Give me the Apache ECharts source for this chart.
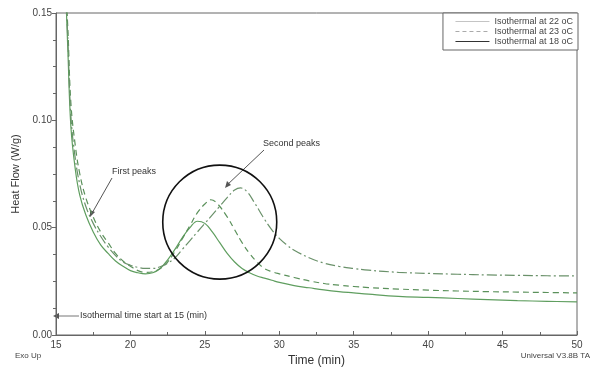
<!DOCTYPE html>
<html><head><meta charset="utf-8">
<script src="https://cdn.jsdelivr.net/npm/echarts@6/dist/echarts.min.js"></script>
<style>html,body{margin:0;padding:0;background:#fff}#c{width:600px;height:372px}</style>
</head><body><div id="c"></div>
<script>
const seriesNames = ['Isothermal at 22 oC', 'Isothermal at 23 oC', 'Isothermal at 18 oC'];
const xTicks = [15, 20, 25, 30, 35, 40, 45, 50];
const yTicks = [0.00, 0.05, 0.10, 0.15];

const t22 = [15.6,15.8,16.0,16.3,16.6,17.0,17.5,18.0,18.5,19.0,19.5,20.0,20.5,21.0,21.5,22.0,22.5,23.0,23.5,24.0,24.5,25.0,25.5,26.0,26.5,27.0,27.5,28.0,28.5,29.0,29.5,30,31,32,33,34,35,36,38,40,42,44,46,48,50];
const v22 = [0.17,0.132,0.097,0.077,0.065,0.056,0.048,0.042,0.038,0.0345,0.032,0.030,0.029,0.0285,0.029,0.031,0.035,0.040,0.0455,0.050,0.053,0.052,0.048,0.043,0.038,0.034,0.031,0.029,0.0275,0.0265,0.0255,0.0245,0.023,0.022,0.021,0.0202,0.0196,0.019,0.018,0.0175,0.017,0.0165,0.016,0.0157,0.0154];

const t23 = [15.6,15.8,16.0,16.3,16.6,17.0,17.5,18.0,18.5,19.0,19.5,20.0,20.5,21.0,21.5,22.0,22.5,23.0,23.5,24.0,24.5,25.0,25.4,25.8,26.5,27.0,27.5,28.0,28.5,29.0,29.5,30,31,32,33,34,35,36,38,40,42,44,46,48,50];
const v23 = [0.17,0.142,0.108,0.088,0.075,0.064,0.055,0.048,0.043,0.038,0.0345,0.032,0.030,0.0292,0.0295,0.031,0.034,0.039,0.045,0.051,0.057,0.061,0.063,0.0615,0.055,0.049,0.043,0.038,0.034,0.031,0.0295,0.0285,0.0268,0.0252,0.024,0.0232,0.0226,0.0221,0.0214,0.0209,0.0205,0.0202,0.0200,0.0198,0.0196];

const t18 = [15.6,15.8,16.0,16.3,16.6,17.0,17.5,18.0,18.5,19.0,19.5,20.0,20.5,21.0,21.5,22.0,22.5,23.0,23.5,24.0,24.5,25.0,25.5,26.0,26.5,27.0,27.4,27.8,28.3,29.0,29.5,30.0,30.5,31,32,33,34,35,36,38,40,42,44,46,48,50];
const v18 = [0.17,0.137,0.102,0.082,0.070,0.060,0.052,0.046,0.041,0.037,0.034,0.0325,0.0315,0.031,0.031,0.0318,0.0335,0.036,0.040,0.044,0.048,0.052,0.056,0.060,0.064,0.0675,0.0685,0.067,0.062,0.054,0.049,0.045,0.042,0.0395,0.036,0.0335,0.032,0.031,0.0302,0.0292,0.0287,0.0283,0.028,0.0278,0.0276,0.0275];

function pairs(t, v) { return t.map((x, i) => [x, v[i]]); }

const chart = echarts.init(document.getElementById('c'));
const font = 'Liberation Sans, Arial, sans-serif';
const lineColors = ['#5f9e5f', '#5b915b', '#6a916a'];
const lineTypes = ['solid', [6, 4], [10, 3, 2, 3]];
const legendColors = ['#c4c4c4', '#aaaaaa', '#333333'];
const legendTypes = ['solid', [4, 3], 'solid'];

chart.setOption({
  animation: false,
  backgroundColor: '#fff',
  textStyle: { fontFamily: font },
  grid: { left: 56, right: 23, top: 13, bottom: 37, show: true, borderColor: '#666', borderWidth: 1 },
  legend: {
    show: true,
    right: 22, top: 13, orient: 'vertical', itemGap: 1, itemWidth: 34, itemHeight: 9,
    padding: [4, 5, 4, 12], borderColor: '#666', borderWidth: 1, backgroundColor: '#fff',
    textStyle: { fontSize: 9, color: '#444', fontFamily: font },
    data: seriesNames.map((n, i) => ({ name: n, itemStyle: { opacity: 0 }, lineStyle: { color: legendColors[i], type: legendTypes[i], width: 1 } }))
  },
  xAxis: {
    type: 'value', min: 15, max: 50, interval: 5,
    name: 'Time (min)', nameLocation: 'middle', nameGap: 20,
    nameTextStyle: { fontSize: 12, color: '#333' },
    axisLine: { lineStyle: { color: '#666' } },
    axisTick: { inside: true, length: 4, lineStyle: { color: '#666' } },
    minorTick: { show: true, splitNumber: 2, length: 3, lineStyle: { color: '#666' } },
    axisLabel: { fontSize: 10, color: '#444', margin: 5 },
    splitLine: { show: false }
  },
  yAxis: {
    type: 'value', min: 0, max: 0.15, interval: 0.05,
    name: 'Heat Flow (W/g)', nameLocation: 'middle', nameGap: 33,
    nameTextStyle: { fontSize: 11, color: '#333' },
    axisLine: { show: true, lineStyle: { color: '#666' } },
    axisTick: { show: true, inside: false, length: 4, lineStyle: { color: '#666' } },
    minorTick: { show: true, splitNumber: 4, length: 3, lineStyle: { color: '#666' } },
    axisLabel: { fontSize: 10, color: '#444', margin: 4, formatter: v => v.toFixed(2) },
    splitLine: { show: false }
  },
  series: [
    { name: seriesNames[0], type: 'line', data: pairs(t22, v22) },
    { name: seriesNames[1], type: 'line', data: pairs(t23, v23) },
    { name: seriesNames[2], type: 'line', data: pairs(t18, v18) }
  ].map((s, i) => Object.assign(s, {
    smooth: 0.4, symbol: 'none', clip: true,
    lineStyle: { color: lineColors[i], width: 1.2, type: lineTypes[i] },
    itemStyle: { color: lineColors[i] }
  }))
});

const c = chart.convertToPixel({ gridIndex: 0 }, [26.0, 0.0526]);
chart.setOption({
  graphic: [
    { type: 'circle', shape: { cx: c[0], cy: c[1], r: 57 }, style: { fill: 'none', stroke: '#111', lineWidth: 1.6 }, z: 100 },
    { type: 'text', x: 263, y: 139, style: { text: 'Second peaks', fontSize: 9, fill: '#333', fontFamily: font } },
    { type: 'line', shape: { x1: 264, y1: 150, x2: 226, y2: 186 }, style: { stroke: '#555', lineWidth: 1 } },
    { type: 'polygon', shape: { points: [[225, 188], [227, 181], [231, 185]] }, style: { fill: '#555' } },
    { type: 'text', x: 112, y: 167, style: { text: 'First peaks', fontSize: 9, fill: '#333', fontFamily: font } },
    { type: 'line', shape: { x1: 112, y1: 178, x2: 91, y2: 215 }, style: { stroke: '#555', lineWidth: 1 } },
    { type: 'polygon', shape: { points: [[90, 217], [90, 210], [95, 212]] }, style: { fill: '#555' } },
    { type: 'text', x: 80, y: 311, style: { text: 'Isothermal time start at 15 (min)', fontSize: 9, fill: '#333', fontFamily: font } },
    { type: 'line', shape: { x1: 55, y1: 316, x2: 79, y2: 316 }, style: { stroke: '#777', lineWidth: 1 } },
    { type: 'polygon', shape: { points: [[53, 316], [59, 313], [59, 319]] }, style: { fill: '#555' } },
    { type: 'text', x: 15, y: 352, style: { text: 'Exo Up', fontSize: 8, fill: '#444', fontFamily: font } },
    { type: 'text', x: 590, y: 352, style: { text: 'Universal V3.8B TA', fontSize: 8, fill: '#444', fontFamily: font, align: 'right' } }
  ]
});
</script></body></html>
